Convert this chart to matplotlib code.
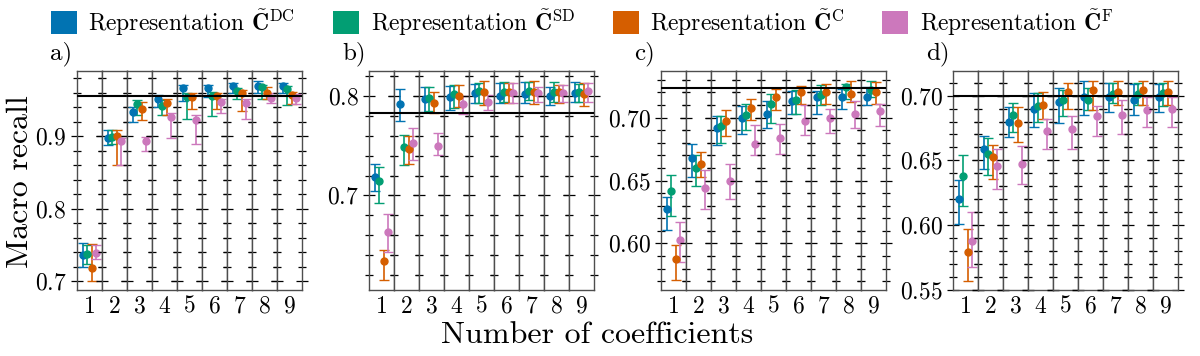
import numpy as np
import matplotlib
matplotlib.use("Agg")
import matplotlib.pyplot as plt
from matplotlib.patches import Patch
from matplotlib.ticker import MultipleLocator

plt.rcParams["font.family"] = ["cmr10", "DejaVu Serif"]
plt.rcParams["mathtext.fontset"] = "cm"
plt.rcParams["axes.formatter.use_mathtext"] = True
plt.rcParams["axes.unicode_minus"] = False

# --- data -------------------------------------------------------------
coefficients = [1, 2, 3, 4, 5, 6, 7, 8, 9]
rep_names = ["DC", "SD", "C", "F"]
rep_colors = ["#0173B2", "#029E73", "#D55E00", "#CC78BC"]
panel_tags = ["a)", "b)", "c)", "d)"]

# rows: DC, SD, C, F
a_mean = [[0.736, 0.898, 0.934, 0.952, 0.966, 0.967, 0.970, 0.970, 0.970],
          [0.737, 0.899, 0.944, 0.942, 0.954, 0.956, 0.963, 0.968, 0.965],
          [0.718, 0.901, 0.938, 0.946, 0.954, 0.955, 0.959, 0.960, 0.957],
          [0.739, 0.894, 0.893, 0.927, 0.922, 0.947, 0.946, 0.953, 0.953]]
a_low = [[0.720, 0.888, 0.920, 0.941, 0.948, 0.954, 0.960, 0.960, 0.960],
         [0.724, 0.889, 0.929, 0.929, 0.924, 0.928, 0.951, 0.951, 0.943],
         [0.701, 0.861, 0.922, 0.930, 0.938, 0.937, 0.935, 0.951, 0.944],
         [0.731, 0.861, 0.879, 0.897, 0.890, 0.932, 0.924, 0.946, 0.945]]
a_high = [[0.753, 0.909, 0.941, 0.957, 0.971, 0.971, 0.973, 0.976, 0.974],
          [0.750, 0.909, 0.950, 0.950, 0.959, 0.961, 0.966, 0.971, 0.969],
          [0.752, 0.909, 0.947, 0.951, 0.960, 0.959, 0.964, 0.968, 0.961],
          [0.750, 0.897, 0.899, 0.932, 0.929, 0.951, 0.952, 0.959, 0.958]]

b_mean = [[0.719, 0.792, 0.797, 0.799, 0.803, 0.800, 0.802, 0.800, 0.803],
          [0.715, 0.749, 0.798, 0.802, 0.805, 0.804, 0.805, 0.804, 0.804],
          [0.634, 0.747, 0.793, 0.800, 0.804, 0.804, 0.804, 0.804, 0.802],
          [0.663, 0.753, 0.750, 0.792, 0.794, 0.803, 0.803, 0.803, 0.805]]
b_low = [[0.704, 0.775, 0.784, 0.786, 0.793, 0.793, 0.793, 0.791, 0.794],
         [0.692, 0.731, 0.785, 0.788, 0.793, 0.794, 0.796, 0.794, 0.794],
         [0.615, 0.732, 0.783, 0.789, 0.791, 0.793, 0.792, 0.793, 0.790],
         [0.643, 0.736, 0.741, 0.782, 0.786, 0.793, 0.794, 0.794, 0.794]]
b_high = [[0.732, 0.807, 0.809, 0.810, 0.812, 0.813, 0.814, 0.809, 0.814],
          [0.729, 0.761, 0.809, 0.811, 0.813, 0.814, 0.814, 0.814, 0.812],
          [0.645, 0.760, 0.804, 0.811, 0.815, 0.813, 0.815, 0.811, 0.813],
          [0.681, 0.768, 0.763, 0.800, 0.801, 0.813, 0.809, 0.811, 0.813]]

c_mean = [[0.627, 0.668, 0.692, 0.700, 0.703, 0.713, 0.716, 0.716, 0.716],
          [0.642, 0.660, 0.693, 0.702, 0.711, 0.714, 0.718, 0.724, 0.722],
          [0.588, 0.663, 0.697, 0.708, 0.716, 0.720, 0.720, 0.719, 0.720],
          [0.603, 0.644, 0.650, 0.679, 0.684, 0.697, 0.700, 0.703, 0.705]]
c_low = [[0.611, 0.653, 0.678, 0.687, 0.692, 0.703, 0.703, 0.707, 0.710],
         [0.622, 0.646, 0.680, 0.690, 0.696, 0.703, 0.710, 0.715, 0.716],
         [0.571, 0.653, 0.685, 0.698, 0.706, 0.711, 0.711, 0.712, 0.711],
         [0.585, 0.627, 0.635, 0.670, 0.671, 0.686, 0.688, 0.692, 0.693]]
c_high = [[0.637, 0.679, 0.701, 0.709, 0.713, 0.721, 0.721, 0.723, 0.724],
          [0.654, 0.670, 0.701, 0.711, 0.719, 0.722, 0.726, 0.727, 0.729],
          [0.599, 0.673, 0.706, 0.715, 0.723, 0.725, 0.727, 0.729, 0.728],
          [0.617, 0.658, 0.663, 0.694, 0.695, 0.710, 0.707, 0.713, 0.711]]

d_mean = [[0.620, 0.659, 0.680, 0.690, 0.695, 0.699, 0.699, 0.697, 0.699],
          [0.638, 0.655, 0.685, 0.692, 0.697, 0.697, 0.701, 0.701, 0.702],
          [0.579, 0.653, 0.679, 0.693, 0.703, 0.704, 0.703, 0.704, 0.703],
          [0.588, 0.646, 0.647, 0.673, 0.674, 0.684, 0.685, 0.689, 0.690]]
d_low = [[0.601, 0.643, 0.668, 0.676, 0.679, 0.685, 0.687, 0.685, 0.687],
         [0.615, 0.639, 0.672, 0.680, 0.684, 0.689, 0.694, 0.693, 0.692],
         [0.557, 0.636, 0.664, 0.682, 0.690, 0.689, 0.693, 0.693, 0.693],
         [0.568, 0.628, 0.632, 0.659, 0.659, 0.669, 0.670, 0.676, 0.676]]
d_high = [[0.635, 0.669, 0.691, 0.702, 0.706, 0.711, 0.710, 0.709, 0.709],
          [0.654, 0.667, 0.694, 0.702, 0.704, 0.706, 0.710, 0.710, 0.710],
          [0.597, 0.662, 0.691, 0.703, 0.710, 0.711, 0.711, 0.711, 0.711],
          [0.610, 0.659, 0.661, 0.682, 0.684, 0.692, 0.697, 0.699, 0.699]]

baselines = [0.956, 0.7826, 0.7234, 0.700]
y_limits = [(0.688, 0.99), (0.605, 0.825), (0.563, 0.737), (0.55, 0.719)]
major_steps = [0.1, 0.1, 0.05, 0.05]
minor_steps = [0.02, 0.02, 0.01, 0.01]

panels = [(a_mean, a_low, a_high), (b_mean, b_low, b_high),
          (c_mean, c_low, c_high), (d_mean, d_low, d_high)]

# --- figure -----------------------------------------------------------
fig = plt.figure(figsize=(12, 3.56), dpi=100)
outer = fig.add_gridspec(1, 4, left=77/1200, right=1178/1200,
                         bottom=1-290/356, top=1-71/356, wspace=0.298)

offsets = [-0.27, -0.09, 0.09, 0.27]
fs_tick = 17
fs_label = 23
fs_text = 17

for p, (mean, low, high) in enumerate(panels):
    inner = outer[p].subgridspec(1, len(coefficients), wspace=0)
    mean = np.array(mean)
    low = np.array(low)
    high = np.array(high)
    for k, n in enumerate(coefficients):
        ax = fig.add_subplot(inner[k])
        for r in range(len(rep_names)):
            yerr = [[mean[r, k] - low[r, k]], [high[r, k] - mean[r, k]]]
            ax.errorbar([offsets[r]], [mean[r, k]], yerr=yerr, fmt="o",
                        color=rep_colors[r], ms=5, elinewidth=1.2,
                        capsize=3.5, capthick=1.0)
        ax.axhline(baselines[p], color="black", lw=1.5, zorder=5)
        ax.set_xlim(-0.5, 0.5)
        ax.set_ylim(*y_limits[p])
        ax.yaxis.set_major_locator(MultipleLocator(major_steps[p]))
        ax.yaxis.set_minor_locator(MultipleLocator(minor_steps[p]))
        ax.set_xticks([0])
        ax.set_xticklabels([str(n)])
        ax.tick_params(axis="x", length=0, labelsize=fs_tick, pad=4)
        ax.tick_params(axis="y", which="both", direction="inout",
                       left=True, right=True, labelsize=fs_tick,
                       color="black")
        ax.tick_params(axis="y", which="major", length=8, width=0.9)
        ax.tick_params(axis="y", which="minor", length=6, width=0.9)
        for s in ax.spines.values():
            s.set_color("0.3")
            s.set_linewidth(1.0)
        if k > 0:
            ax.tick_params(axis="y", labelleft=False)
        else:
            ax.annotate(panel_tags[p], xy=(0, 1), xycoords="axes fraction",
                        xytext=(-19.5, 12.5), textcoords="offset points",
                        fontsize=18, va="center", ha="left")

fig.text(20/1200, 1-182/356, "Macro recall", rotation=90, ha="center",
         va="center", fontsize=fs_label)
fig.text(597/1200, 1-335/356, "Number of coefficients", ha="center",
         va="center", fontsize=fs_label)

handles = [Patch(facecolor=c, edgecolor="none") for c in rep_colors]
labels = [r"Representation $\tilde{\mathbf{C}}^{\mathrm{%s}}$" % n
          for n in rep_names]
fig.legend(handles, labels, loc="upper center", bbox_to_anchor=(0.485, 1.04),
           ncol=4, frameon=False, fontsize=fs_text, handlelength=1.1,
           handleheight=1.1, handletextpad=0.5, columnspacing=1.6)

fig.savefig("out.png", dpi=100)
